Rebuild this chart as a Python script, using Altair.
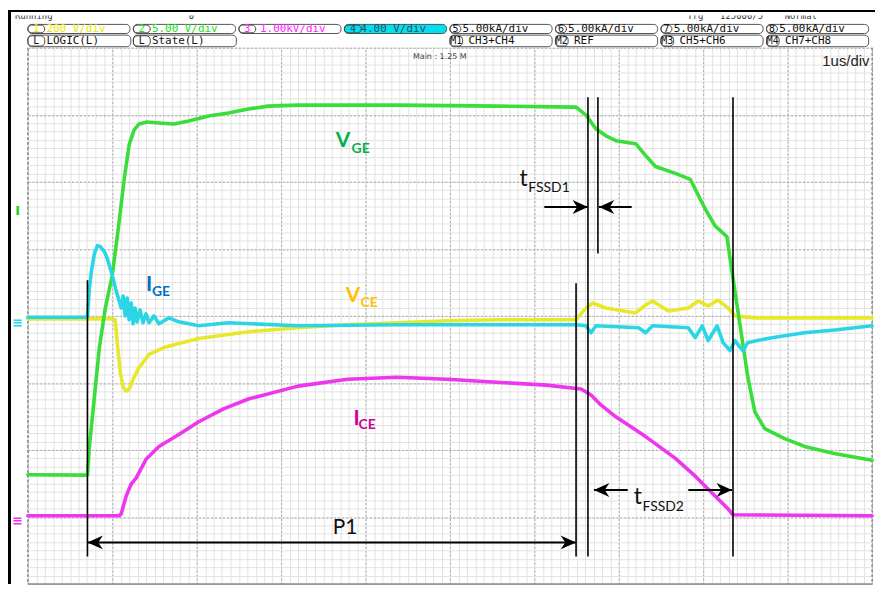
import altair as alt
import numpy as np
import pandas as pd

# ---------------- readings: t in µs from the left graticule edge (1 µs/div), d in divisions from centre
VGE = [
    (0.000, -2.37), (0.706, -2.376), (0.729, -1.948), (0.788, -1.210), (0.847, -0.472),
    (0.918, 0.118), (1.000, 0.605), (1.071, 1.299), (1.141, 2.037), (1.200, 2.554),
    (1.259, 2.775), (1.318, 2.863), (1.412, 2.893), (1.553, 2.878), (1.729, 2.863),
    (1.906, 2.908), (2.141, 2.982), (2.376, 3.026), (2.612, 3.085), (2.847, 3.129),
    (3.200, 3.144), (4.376, 3.144), (5.553, 3.129), (6.494, 3.114), (6.612, 2.996),
    (6.729, 2.790), (6.847, 2.686), (6.965, 2.613), (7.200, 2.568), (7.318, 2.391),
    (7.435, 2.229), (7.671, 2.125), (7.847, 2.037), (7.906, 1.889), (8.024, 1.594),
    (8.141, 1.343), (8.282, 1.181), (8.318, 0.856), (8.529, -0.915), (8.612, -1.432),
    (8.729, -1.683), (8.965, -1.830), (9.200, -1.948), (9.553, -2.052), (10.000, -2.155),
]
IGE = [
    (0.000, -0.02), (0.706, -0.02), (0.729, 0.413), (0.753, 0.664), (0.788, 0.930),
    (0.824, 1.048), (0.859, 1.033), (0.906, 0.959), (0.941, 0.856), (1.000, 0.605),
    (1.047, 0.369), (1.082, 0.221), (1.106, 0.118), (1.129, 0.295), (1.153, 0.000),
    (1.176, 0.266), (1.200, -0.059), (1.224, 0.192), (1.247, -0.118), (1.271, 0.118),
    (1.294, -0.089), (1.329, 0.089), (1.365, -0.103), (1.400, 0.030), (1.435, -0.103),
    (1.494, 0.000), (1.553, -0.118), (1.671, -0.030), (1.788, -0.089), (2.024, -0.148),
    (2.376, -0.103), (3.200, -0.148), (4.376, -0.133), (5.553, -0.133), (6.494, -0.133),
    (6.612, -0.148), (6.671, -0.251), (6.729, -0.148), (7.235, -0.177), (7.318, -0.251),
    (7.400, -0.148), (7.824, -0.177), (7.906, -0.325), (7.988, -0.148), (8.059, -0.369),
    (8.165, -0.148), (8.235, -0.399), (8.318, -0.517), (8.376, -0.369), (8.471, -0.517),
    (8.529, -0.399), (8.812, -0.325), (9.200, -0.251), (9.588, -0.207), (10.000, -0.148),
]
VCE = [
    (0.000, -0.045), (1.000, -0.045), (1.035, -0.059), (1.059, -0.399), (1.094, -0.841),
    (1.129, -1.063), (1.165, -1.122), (1.200, -1.092), (1.247, -0.945), (1.318, -0.768),
    (1.435, -0.576), (1.612, -0.472), (1.788, -0.413), (2.024, -0.339), (2.612, -0.236),
    (3.200, -0.177), (3.788, -0.133), (4.376, -0.103), (4.965, -0.074), (5.553, -0.059),
    (6.494, -0.059), (6.612, 0.118), (6.694, 0.192), (6.847, 0.118), (7.200, 0.044),
    (7.318, 0.162), (7.400, 0.221), (7.588, 0.074), (7.824, 0.118), (7.941, 0.221),
    (8.059, 0.148), (8.176, 0.236), (8.294, 0.118), (8.376, 0.000), (8.612, -0.030),
    (10.000, -0.030),
]
ICE = [
    (0.000, -2.982), (1.082, -2.982), (1.106, -2.952), (1.165, -2.686), (1.224, -2.509),
    (1.282, -2.421), (1.400, -2.140), (1.553, -1.948), (1.788, -1.771), (2.024, -1.579),
    (2.318, -1.387), (2.612, -1.240), (3.200, -1.048), (3.788, -0.945), (4.376, -0.915),
    (4.965, -0.945), (5.553, -0.989), (6.141, -1.033), (6.553, -1.092), (6.671, -1.181),
    (6.788, -1.328), (6.965, -1.506), (7.318, -1.801), (7.671, -2.125), (7.906, -2.391),
    (8.141, -2.686), (8.294, -2.878), (8.353, -2.967), (10.000, -2.982),
]

# annotation cursors: (t, top, bottom)
CURSORS = [(0.706, 0.531, -3.59), (6.494, 0.487, -3.59), (6.635, 3.262, -3.59),
           (6.753, 3.262, 0.930), (8.353, 3.262, -3.59)]
# arrow shafts: (t_from, t_to, level)
SHAFTS = [(0.706, 6.494, -3.380), (6.118, 6.635, 1.624), (6.765, 7.153, 1.624),
          (6.706, 7.106, -2.598), (7.824, 8.341, -2.598)]
HEADS_RIGHT = [(6.494, -3.380), (6.635, 1.624), (8.341, -2.598)]
HEADS_LEFT = [(0.706, -3.380), (6.765, 1.624), (6.706, -2.598)]

LABELS_BOLD = [
    ("V", 3.647, 2.524, "#00B050", 21), ("GE", 3.835, 2.435, "#00B050", 14),
    ("I", 1.400, 0.369, "#0070C0", 21), ("GE", 1.471, 0.295, "#0070C0", 14),
    ("V", 3.765, 0.207, "#FFC000", 21), ("CE", 3.941, 0.133, "#FFC000", 14),
    ("I", 3.859, -1.624, "#CC0099", 21), ("CE", 3.918, -1.683, "#CC0099", 14),
]
LABELS_PLAIN = [
    ("P1", 3.612, -3.247, 21),
    ("t", 5.824, 1.934, 23), ("FSSD1", 5.929, 1.845, 14),
    ("t", 7.176, -2.804, 23), ("FSSD2", 7.282, -2.908, 14),
]
SIDE_MARKS = [("I", -0.12, 1.56, "#22cc22"), ("≡", -0.12, -0.10, "#22d8e8"), ("≡", -0.12, -3.06, "#ee30ee")]

# scope header
ROW2_BADGE = ["1", "2", "3", "4", "5", "6", "7", "8"]
ROW2_TEXT = [" 200 V/div", "5.00 V/div", "1.00kV/div", "4.00 V/div",
             "5.00kA/div", "5.00kA/div", "5.00kA/div", "5.00kA/div"]
ROW2_COLOR = ["#e8e800", "#22dd22", "#ff22ff", "#23505c", "#111111", "#111111", "#111111", "#111111"]
ROW2_FILL = ["white", "white", "white", "#00e0f0", "white", "white", "white", "white"]
ROW2_BADGE_W = [0.2, 0.2, 0.2, 0.2, 0.13, 0.13, 0.13, 0.13]
ROW2_TEXT_OFF = [0.22, 0.22, 0.25, 0.19, 0.15, 0.15, 0.15, 0.15]
ROW3_SLOT = [0, 1, 4, 5, 6, 7]
ROW3_BADGE = ["L", "L", "M1", "M2", "M3", "M4"]
ROW3_TEXT = ["LOGIC(L)", "State(L)", "CH3+CH4", "REF", "CH5+CH6", "CH7+CH8"]
TOP_TEXT = [("Running", -0.153), ("0", 1.906), ("Trg", 7.812), ("125000/5", 8.2), ("Normal", 8.965)]

# ---------------- chart
xs = alt.Scale(domain=[0, 10], nice=False, zero=False)
ys = alt.Scale(domain=[-4, 4], nice=False, zero=False)
X = lambda f: alt.X(f, scale=xs, axis=None)
Y = lambda f: alt.Y(f, scale=ys, axis=None)
dummy = pd.DataFrame({"t": [0.0], "d": [0.0]})


def grid(xv, yv, color, dash=None):
    kw = dict(grid=True, gridColor=color, gridWidth=1, labels=False, ticks=False, domain=False, title=None)
    if dash:
        kw["gridDash"] = dash
    return alt.Chart(dummy).mark_point(opacity=0).encode(
        x=alt.X("t:Q", scale=xs, axis=alt.Axis(values=xv, **kw)),
        y=alt.Y("d:Q", scale=ys, axis=alt.Axis(values=yv, **kw)),
    )


minor = grid([round(v, 2) for v in np.arange(0, 10.001, 0.1)],
             [round(v, 3) for v in np.arange(-4, 4.001, 0.125)], "#e2e2e2")
major = grid(list(range(0, 11)), list(range(-4, 5)), "#a6a6a6", [2, 2])

edges = alt.layer(
    alt.Chart(dummy).mark_rule(color="#666", strokeDash=[3, 2], strokeWidth=1).encode(
        x=alt.value(0), y=alt.value(0), y2=alt.value(540)),
    alt.Chart(dummy).mark_rule(color="#666", strokeDash=[3, 2], strokeWidth=1).encode(
        x=alt.value(850), y=alt.value(0), y2=alt.value(540)),
    alt.Chart(dummy).mark_rule(color="#8a8a8a", strokeWidth=1.5).encode(
        x=alt.value(0), x2=alt.value(850), y=alt.value(540)),
)


def trace(points, color, w=3.6):
    return alt.Chart(pd.DataFrame(points, columns=["t", "d"])).mark_line(
        color=color, strokeWidth=w, strokeJoin="round", strokeCap="round").encode(
        x=X("t:Q"), y=Y("d:Q"), order="t:Q")


traces = alt.layer(
    trace(VCE, "#e8e82a"),
    trace(VGE, "#3ade3a"),
    trace(ICE, "#ee36ee"),
    trace(IGE, "#2ad6e6"),
)

cur = alt.Chart(pd.DataFrame(CURSORS, columns=["t", "d0", "d1"])).mark_rule(
    color="black", strokeWidth=1.6).encode(x=X("t:Q"), y=Y("d0:Q"), y2="d1:Q")
shafts = alt.Chart(pd.DataFrame(SHAFTS, columns=["t0", "t1", "d"])).mark_rule(
    color="black", strokeWidth=2).encode(x=X("t0:Q"), x2="t1:Q", y=Y("d:Q"))
head_r = alt.Chart(pd.DataFrame(HEADS_RIGHT, columns=["t", "d"])).mark_point(
    shape="M0,0 L-2,-0.9 L-1.4,0 L-2,0.9 Z", filled=True, color="black", opacity=1, size=240).encode(
    x=X("t:Q"), y=Y("d:Q"))
head_l = alt.Chart(pd.DataFrame(HEADS_LEFT, columns=["t", "d"])).mark_point(
    shape="M0,0 L2,-0.9 L1.4,0 L2,0.9 Z", filled=True, color="black", opacity=1, size=240).encode(
    x=X("t:Q"), y=Y("d:Q"))

lab_b = alt.Chart(pd.DataFrame(LABELS_BOLD, columns=["txt", "t", "d", "c", "s"])).mark_text(
    align="left", baseline="alphabetic", font="Lato", fontWeight="bold").encode(
    x=X("t:Q"), y=Y("d:Q"), text="txt:N", color=alt.Color("c:N", scale=None), size=alt.Size("s:Q", scale=None))
lab_p = alt.Chart(pd.DataFrame(LABELS_PLAIN, columns=["txt", "t", "d", "s"])).mark_text(
    align="left", baseline="alphabetic", font="Lato", color="#111").encode(
    x=X("t:Q"), y=Y("d:Q"), text="txt:N", size=alt.Size("s:Q", scale=None))
side = alt.Chart(pd.DataFrame(SIDE_MARKS, columns=["txt", "t", "d", "c"])).mark_text(
    font="DejaVu Sans", fontSize=13, fontWeight="bold").encode(
    x=X("t:Q"), y=Y("d:Q"), text="txt:N", color=alt.Color("c:N", scale=None))

# header tables
r2 = pd.DataFrame({
    "x0": [1.25 * k for k in range(8)],
    "x1": [1.25 * k + 1.21 for k in range(8)],
    "bx1": [1.25 * k + w for k, w in enumerate(ROW2_BADGE_W)],
    "bxc": [1.25 * k + w / 2 for k, w in enumerate(ROW2_BADGE_W)],
    "tx": [1.25 * k + o for k, o in enumerate(ROW2_TEXT_OFF)],
    "badge": ROW2_BADGE, "txt": ROW2_TEXT, "c": ROW2_COLOR, "fill": ROW2_FILL,
})
r3 = pd.DataFrame({
    "x0": [1.25 * k for k in ROW3_SLOT],
    "x1": [1.25 * k + (1.22 if k < 2 else 1.21) for k in ROW3_SLOT],
    "bx1": [1.25 * k + (0.2 if k < 2 else 0.15) for k in ROW3_SLOT],
    "bxc": [1.25 * k + (0.1 if k < 2 else 0.075) for k in ROW3_SLOT],
    "tx": [1.25 * k + 0.22 for k in ROW3_SLOT],
    "badge": ROW3_BADGE, "txt": ROW3_TEXT,
})


def header_row(df, ytop, ybot, yc, colored):
    box = alt.Chart(df).mark_rect(cornerRadius=4, stroke="#555", strokeWidth=1).encode(
        x=X("x0:Q"), x2="x1:Q", y=Y("y0:Q"), y2="y1:Q",
        color=alt.Color("fill:N", scale=None) if colored else alt.value("white"),
    ).transform_calculate(y0=str(ytop), y1=str(ybot))
    badge = alt.Chart(df).mark_rect(cornerRadius=4, fill="none", stroke="#444", strokeWidth=1).encode(
        x=X("x0:Q"), x2="bx1:Q", y=Y("y0:Q"), y2="y1:Q",
    ).transform_calculate(y0=str(ytop - 0.01), y1=str(ybot + 0.01))
    bt = alt.Chart(df).mark_text(font="DejaVu Sans Mono", fontSize=10, baseline="middle").encode(
        x=X("bxc:Q"), y=Y("yc:Q"), text="badge:N",
        color=alt.Color("c:N", scale=None) if colored else alt.value("#111"),
    ).transform_calculate(yc=str(yc))
    tt = alt.Chart(df).mark_text(font="DejaVu Sans Mono", fontSize=11, align="left", baseline="middle").encode(
        x=X("tx:Q"), y=Y("yc:Q"), text="txt:N",
        color=alt.Color("c:N", scale=None) if colored else alt.value("#111"),
    ).transform_calculate(yc=str(yc))
    return alt.layer(box, badge, bt, tt)


row2 = header_row(r2, 4.348, 4.212, 4.279, True)
row3 = header_row(r3, 4.188, 4.015, 4.101, False)

top_txt = alt.Chart(pd.DataFrame(TOP_TEXT, columns=["txt", "t"])).mark_text(
    font="DejaVu Sans Mono", fontSize=9, align="left", baseline="alphabetic", color="#333").encode(
    x=X("t:Q"), y=Y("d:Q"), text="txt:N").transform_calculate(d="4.43")
cover = alt.Chart(dummy).mark_rect(color="white").encode(
    x=alt.value(-20), x2=alt.value(856), y=alt.value(-38), y2=alt.value(-32.5))
frame = alt.layer(
    alt.Chart(dummy).mark_rule(color="black", strokeWidth=2).encode(
        x=alt.value(-20), x2=alt.value(856), y=alt.value(-37)),
    alt.Chart(dummy).mark_rule(color="black", strokeWidth=3).encode(
        x=alt.value(-18.5), y=alt.value(-38), y2=alt.value(540)),
)
info = alt.layer(
    alt.Chart(dummy).mark_text(font="DejaVu Sans", fontSize=8, color="#444").encode(
        x=X("t:Q"), y=Y("d:Q"), text=alt.value("Main : 1.25 M")).transform_calculate(t="4.88", d="3.867"),
    alt.Chart(dummy).mark_text(font="Liberation Sans", fontSize=15, color="#222", align="right",
                               baseline="alphabetic").encode(
        x=X("t:Q"), y=Y("d:Q"), text=alt.value("1us/div")).transform_calculate(t="9.97", d="3.733"),
)

chart = alt.layer(
    minor, major, edges, traces, cur, shafts, head_r, head_l, lab_b, lab_p, side,
    top_txt, cover, frame, row2, row3, info,
).resolve_axis(x="independent", y="independent").properties(
    width=850, height=540,
    autosize=alt.AutoSizeParams(type="none"),
    padding={"left": 20, "top": 38, "right": 3, "bottom": 0},
    background="white",
).configure_view(stroke=None)

chart.save("out.html", embed_options={"renderer": "svg", "actions": False})
